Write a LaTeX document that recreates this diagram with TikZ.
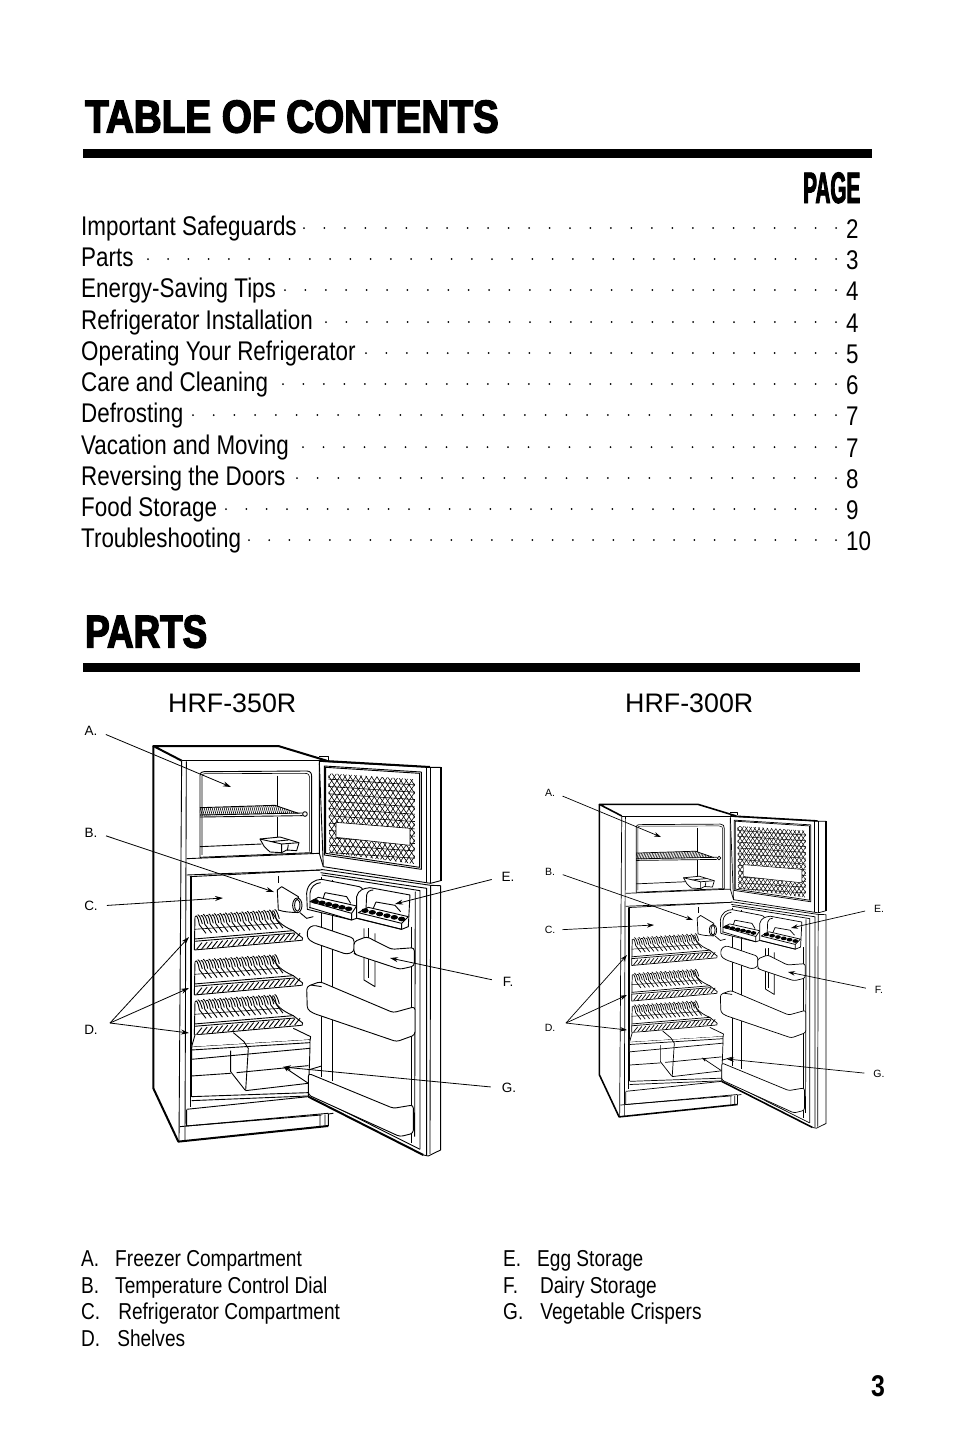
\documentclass[tikz,border=0pt]{standalone}
\usepackage{fontspec}
\usetikzlibrary{arrows.meta}
\setmainfont{Liberation Sans}
\newfontfamily\tocfont[FakeStretch=0.83]{Liberation Sans}
\newfontfamily\headfont[BoldFeatures={FakeBold=3},FakeStretch=0.84]{Liberation Sans}
\newfontfamily\partsfont[BoldFeatures={FakeBold=3},FakeStretch=0.8]{Liberation Sans}
\newfontfamily\pagefont[BoldFeatures={FakeBold=2},FakeStretch=0.47]{Liberation Sans}

\tikzset{
  txt/.style={inner sep=0pt,anchor=base west},
  toctext/.style={txt,font=\tocfont\fontsize{27}{30}\selectfont},
  legendtext/.style={txt,font=\tocfont\fontsize{23}{26}\selectfont},
  modeltext/.style={txt,font=\fontsize{26.8}{29}\selectfont},
  biglabel/.style={inner sep=0pt,font=\fontsize{13.5}{15}\selectfont},
  smalllabel/.style={inner sep=0pt,font=\fontsize{10.5}{12}\selectfont},
  partarrow/.style={-{Stealth[length=8pt,width=5pt]},line width=0.8pt},
  smallarrow/.style={-{Stealth[length=7pt,width=4.5pt]},line width=0.7pt},
  fr/.style={line width=0.9*\frw pt,line join=round},
  frthin/.style={line width=0.6*\frw pt,line join=round},
  frthick/.style={line width=2*\frw pt,line join=round},
  frfill/.style={fr,fill=white},
  binfill/.style={frfill,rounded corners=3*\frw pt},
}

% one row of the contents list: name, text, number, y, first dot
\newcommand{\tocrow}[5]{
  \node[toctext] (#1) at (81,#4+9) {#2};
  \node[toctext] (#1num) at (846,#4+12) {#3};
  \pgfmathtruncatemacro{\dotn}{round((836-#5)/20.45)}
  \pgfmathsetmacro{\dotstep}{(836-#5)/\dotn}
  \foreach \i in {0,...,\dotn}
    \fill ({#5+\i*\dotstep},#4+2) circle (1);
}

% wire shelf of the fridge, #1 = shift downwards
\newcommand{\wireshelf}[1]{
  \begin{scope}[yshift=-#1*\frunit]
    \foreach \i in {0,...,14} {
      \pgfmathsetmacro{\hx}{346+16.5*\i}
      \pgfmathsetmacro{\hy}{590-1.1*\i}
      \draw[fr] (\hx,\hy) .. controls (\hx+2,\hy-6) and (\hx+8,\hy-2) .. (\hx+12,\hy+24) -- (\hx+32,\hy+50);
      \draw[fr] (\hx+7,\hy-6) .. controls (\hx+12,\hy-6) and (\hx+18,\hy+10) .. (\hx+21,\hy+22);
    }
    \foreach \i in {0,...,19} {
      \pgfmathsetmacro{\hx}{350+15.5*\i}
      \draw[fr] (\hx,688-1.5*\i) -- (\hx+16,668-1.5*\i);
    }
    \draw[fr] (343,657) -- (640,632);
    \draw[fr] (343,664) -- (645,639);
    \draw[frthin] (343,628) -- (600,610);
    \draw[fr] (343,690) -- (665,661);
    \draw[fr] (345,590) -- (343,690);
    \draw[fr] (575,575) .. controls (590,600) and (600,615) .. (640,632) -- (668,654) -- (666,662);
  \end{scope}
}

% the fridge, in its own units
\newcommand{\fridge}{
  % cabinet
  \draw[frthick] (305,122) -- (220,78) -- (595,78) -- (740,122);
  \draw[frthick] (220,78) -- (220,1105) -- (295,1265) -- (745,1218);
  \draw[fr] (305,122) -- (740,122);
  \draw[fr] (305,122) -- (297,1265);
  \draw[fr] (319,124) -- (315,1262);
  \draw[fr] (718,108) -- (745,108) -- (745,120);
  % freezer compartment
  \draw[fr] (360,412) -- (360,166) .. controls (360,158) and (365,155) .. (372,155) -- (680,153) .. controls (692,153) and (695,160) .. (695,170) -- (695,400);
  \draw[frthin] (366,405) -- (366,168) .. controls (366,163) and (370,161) .. (375,161) -- (675,160) .. controls (685,160) and (689,165) .. (689,172) -- (689,395);
  \draw[fr] (592,167) -- (592,258) (592,290) -- (592,372);
  \draw[fr] (360,380) -- (545,372);
  \draw[fr] (320,416) -- (718,400);
  \draw[fr] (320,465) -- (725,450);
  \draw[fr] (360,412) -- (695,398);
  \draw[fr] (718,130) -- (718,400) -- (730,440);
  % freezer shelf
  \begin{scope}
    \clip (360,264) -- (585,256) -- (655,280) -- (360,287) -- cycle;
    \foreach \i in {0,...,55}
      \draw[frthin] (355+6*\i,290) -- (365+6*\i,255);
  \end{scope}
  \draw[fr] (360,263) -- (585,256) -- (655,280);
  \draw[fr] (360,285) -- (668,279);
  \draw[fr] (360,291) -- (668,287);
  \draw[frfill] (675,282) circle (7);
  % ice tray
  \draw[frfill] (540,357) -- (600,351) -- (657,368) -- (650,392) -- (620,390) -- (605,398) -- (570,396) -- (553,380) -- cycle;
  \draw[fr] (540,357) -- (605,372) -- (657,368) (572,365) -- (625,360) (605,372) -- (605,396) (625,374) -- (622,392);
  % upper door
  \draw[frfill] (718,124) -- (1052,142) -- (1082,142) -- (1082,482) -- (1052,490) -- (730,440) -- cycle;
  \draw[frthick] (718,122) -- (1050,141);
  \draw[fr] (1052,142) -- (1052,490) (1038,140) -- (1038,486);
  \draw[fr] (733,138) -- (1024,156) -- (1024,448) -- (733,405) -- cycle;
  \draw[fr] (737,142) -- (1019,160) -- (1019,442) -- (737,400) -- cycle;
  \begin{scope}
    \clip (745,160) -- (1005,178) -- (1005,432) -- (748,398) -- cycle;
    \foreach \i in {0,...,46} {
      \draw[frthin] (560+16*\i,130) -- (780+16*\i,460);
      \draw[frthin] (1190-16*\i,130) -- (970-16*\i,460);
    }
    \foreach \i in {0,...,15}
      \draw[frthin] (740,155+22*\i) -- (1010,173+22*\i);
  \end{scope}
  \draw[frfill,draw=none] (768,307) -- (990,325) -- (990,376) -- (768,352) -- cycle;
  \draw[frthin] (768,307) -- (990,325) -- (990,376) -- (768,352) -- cycle;
  % lower door
  \draw[frthick] (1082,142) -- (1082,482);
  \draw[fr] (1082,497) -- (1082,1290) -- (1045,1308) -- (1030,1305);
  \draw[fr] (722,448) -- (1052,496) -- (1082,497);
  \draw[fr] (722,458) -- (1040,505) -- (1040,1305);
  \draw[fr] (1052,496) -- (1050,1302);
  \draw[fr] (725,465) -- (1020,512) -- (1020,1288);
  \draw[fr] (1006,515) -- (1004,1250);
  \draw[fr] (994,620) -- (994,1270);
  \draw[frthick] (685,1130) -- (1030,1305);
  \draw[fr] (685,1120) -- (1020,1288);
  \draw[fr] (725,470) -- (725,1070) (758,480) -- (758,1082);
  \draw[fr] (685,1050) -- (725,1038);
  % fridge compartment
  \draw[fr] (330,470) -- (330,1160);
  \draw[fr] (335,472) -- (335,1130);
  \draw[fr] (330,470) -- (720,450);
  \draw[fr] (596,468) -- (596,490);
  \draw[fr] (335,1130) -- (685,1118);
  \draw[fr] (335,1142) -- (685,1128);
  \draw[fr] (320,1168) -- (685,1130);
  \draw[fr] (300,1220) -- (745,1180);
  \draw[fr] (320,1170) -- (320,1218) -- (725,1185);
  \draw[fr] (720,1185) -- (720,1218) (735,1184) -- (735,1218) (745,1218) -- (745,1182) -- (760,1180);
  % wire shelves
  \wireshelf{0}
  \wireshelf{135}
  \wireshelf{255}
  % crispers
  \draw[frfill] (335,980) -- (690,958) -- (690,985) -- (335,1018) -- cycle;
  \draw[frfill,draw=none] (340,945) -- (692,940) -- (692,958) -- (335,980) -- cycle;
  \draw[fr] (345,945) -- (335,980) (640,925) -- (692,950) -- (690,962);
  \draw[fr] (335,990) -- (690,968);
  \draw[fr] (460,938) -- (492,965) -- (505,985) -- (497,1112);
  \draw[fr] (452,992) -- (452,1055) -- (495,1110);
  \draw[fr] (335,1068) -- (452,1060) (470,1058) -- (685,1037);
  \draw[fr] (497,1112) -- (685,1090);
  \draw[fr] (690,985) -- (685,1130);
  \draw[-{Stealth[length=6*\frw pt,width=4*\frw pt]},fr] (685,1090) -- (610,1040);
  % door shelves
  \draw[fr] (852,625) -- (852,780) -- (885,800) -- (885,640);
  \draw[fr] (864,625) -- (864,775);
  \draw[binfill] (682,628) -- (700,615) -- (725,622) -- (822,655) -- (822,695) -- (800,703) -- (700,668) -- (682,655) -- cycle;
  \draw[binfill] (822,665) -- (860,650) -- (935,688) -- (1003,683) -- (1003,738) -- (960,748) -- (830,705) -- (822,700) -- cycle;
  \draw[binfill] (680,800) -- (720,785) -- (940,878) -- (1005,860) -- (1005,945) -- (950,965) -- (700,880) -- (682,868) -- cycle;
  \draw[fr] (692,795) -- (725,800);
  \draw[binfill] (685,1060) -- (940,1165) -- (1000,1155) -- (1000,1240) -- (960,1250) -- (685,1125) -- cycle;
  % egg trays
  \draw[frfill] (682,568) -- (680,520) .. controls (682,490) and (705,478) .. (725,478) -- (838,500) .. controls (850,505) and (850,510) .. (845,520) -- (830,595) -- (815,600) -- cycle;
  \draw[fr] (690,565) -- (690,520) .. controls (692,500) and (705,490) .. (722,488);
  \draw[fr] (735,518) -- (800,530) -- (812,550) (735,518) -- (728,540);
  \draw[frfill] (690,545) -- (715,532) -- (830,558) -- (815,580) -- cycle;
  \draw[fr] (688,562) -- (815,600) -- (815,580);
  \foreach \i in {0,...,5}
    \fill (706+20*\i,544+4.5*\i) ellipse (11 and 7);
  \draw[frfill] (830,595) -- (830,530) .. controls (835,510) and (850,505) .. (870,503) -- (990,525) -- (985,620) -- (965,628) -- cycle;
  \draw[fr] (858,570) -- (860,525) .. controls (862,515) and (870,510) .. (880,510);
  \draw[fr] (888,546) -- (945,556) -- (962,575) (888,546) -- (880,565);
  \draw[frfill] (835,578) -- (865,562) -- (985,590) -- (965,610) -- cycle;
  \draw[fr] (833,595) -- (965,628) -- (965,610);
  \foreach \i in {0,...,5}
    \fill (855+22*\i,572+5*\i) ellipse (11 and 7);
  % dial
  \draw[frfill] (592,510) -- (605,500) -- (655,530) -- (655,577) .. controls (630,578) and (610,575) .. (595,570) -- cycle;
  \draw[frfill] (652,556) ellipse (14 and 22);
  \draw[fr] (652,556) ellipse (8 and 18);
  \draw[fr] (660,578) -- (680,595) -- (700,590);
}

\begin{document}
\begin{tikzpicture}[x=1pt,y=-1pt]
  \useasboundingbox (0,0) rectangle (954,1452);

  % headings
  \node[txt,font=\headfont\bfseries\fontsize{46}{50}\selectfont] (title) at (85,132.5) {TABLE OF CONTENTS};
  \fill (83,149) rectangle (872,158);
  \node[txt,font=\pagefont\bfseries\fontsize{44}{48}\selectfont] (pagehead) at (803,203) {PAGE};

  % contents
  \tocrow{safe}{Important Safeguards}{2}{226}{304}
  \tocrow{parts}{Parts}{3}{257}{148}
  \tocrow{energy}{Energy-Saving Tips}{4}{288}{285}
  \tocrow{install}{Refrigerator Installation}{4}{320}{326}
  \tocrow{operate}{Operating Your Refrigerator}{5}{351}{366}
  \tocrow{care}{Care and Cleaning}{6}{382}{283}
  \tocrow{defrost}{Defrosting}{7}{413}{193}
  \tocrow{vacation}{Vacation and Moving}{7}{445}{303}
  \tocrow{reverse}{Reversing the Doors}{8}{476}{297}
  \tocrow{food}{Food Storage}{9}{507}{226}
  \tocrow{trouble}{Troubleshooting}{10}{538}{249}

  \node[txt,font=\partsfont\bfseries\fontsize{46}{50}\selectfont] (partshead) at (85,647.5) {PARTS};
  \fill (83,663) rectangle (860,672);

  \node[modeltext] (bigmodel) at (168,712) {HRF-350R};
  \node[modeltext] (smallmodel) at (625,712) {HRF-300R};

  % big fridge
  \begin{scope}[shift={(80,720)},x=0.3333pt,y=-0.3333pt]
    \def\frw{1}\def\frunit{0.3333pt}
    \fridge
  \end{scope}

  % small fridge
  \begin{scope}[shift={(541.5,783.8)},x=0.263pt,y=-0.2633pt]
    \def\frw{0.79}\def\frunit{0.2633pt}
    \fridge
  \end{scope}

  % big fridge labels
  \node[biglabel] (la) at (91,731) {A.};
  \node[biglabel] (lb) at (91,833) {B.};
  \node[biglabel] (lc) at (91,906) {C.};
  \node[biglabel] (ld) at (91,1030) {D.};
  \node[biglabel] (le) at (508,877) {E.};
  \node[biglabel] (lf) at (508,982) {F.};
  \node[biglabel] (lg) at (509,1088) {G.};
  \coordinate (ta) at (231,787);
  \coordinate (tb) at (274,892);
  \coordinate (tc) at (223,898);
  \coordinate (tdone) at (189,937);
  \coordinate (tdtwo) at (189,988);
  \coordinate (tdthree) at (189,1033);
  \coordinate (te) at (395,904);
  \coordinate (tf) at (390,958);
  \coordinate (tg) at (283,1067);
  \coordinate (dfork) at (110,1023);
  \draw[partarrow,shorten <=9pt] (la.east) -- (ta);
  \draw[partarrow,shorten <=9pt] (lb.east) -- (tb);
  \draw[partarrow,shorten <=9pt] (lc.east) -- (tc);
  \draw[partarrow] (dfork) -- (tdone);
  \draw[partarrow] (dfork) -- (tdtwo);
  \draw[partarrow] (dfork) -- (tdthree);
  \draw[partarrow,shorten <=10pt] (le.west) -- (te);
  \draw[partarrow,shorten <=11pt] (lf.west) -- (tf);
  \draw[partarrow,shorten <=11pt] (lg.west) -- (tg);

  % small fridge labels
  \node[smalllabel] (sa) at (550,793) {A.};
  \node[smalllabel] (sb) at (550,872) {B.};
  \node[smalllabel] (sc) at (550,930) {C.};
  \node[smalllabel] (sd) at (550,1028) {D.};
  \node[smalllabel] (se) at (879,909) {E.};
  \node[smalllabel] (sf) at (879,990) {F.};
  \node[smalllabel] (sg) at (879,1074) {G.};
  \coordinate (ua) at (661,837);
  \coordinate (ub) at (693,920);
  \coordinate (uc) at (654,925);
  \coordinate (udone) at (627,955);
  \coordinate (udtwo) at (627,995);
  \coordinate (udthree) at (627,1030);
  \coordinate (ue) at (791,928);
  \coordinate (uf) at (788,972);
  \coordinate (ug) at (727,1059);
  \coordinate (ufork) at (566,1023);
  \draw[smallarrow,shorten <=8pt] (sa.east) -- (ua);
  \draw[smallarrow,shorten <=8pt] (sb.east) -- (ub);
  \draw[smallarrow,shorten <=7pt] (sc.east) -- (uc);
  \draw[smallarrow] (ufork) -- (udone);
  \draw[smallarrow] (ufork) -- (udtwo);
  \draw[smallarrow] (ufork) -- (udthree);
  \draw[smallarrow,shorten <=9pt] (se.west) -- (ue);
  \draw[smallarrow,shorten <=9pt] (sf.west) -- (uf);
  \draw[smallarrow,shorten <=9pt] (sg.west) -- (ug);

  % legend
  \node[legendtext] (lega) at (81,1266) {A.\hspace{16pt}Freezer Compartment};
  \node[legendtext] (legb) at (81,1293) {B.\hspace{16pt}Temperature Control Dial};
  \node[legendtext] (legc) at (81,1319) {C.\hspace{18pt}Refrigerator Compartment};
  \node[legendtext] (legd) at (81,1346) {D.\hspace{17pt}Shelves};
  \node[legendtext] (lege) at (503,1266) {E.\hspace{16pt}Egg Storage};
  \node[legendtext] (legf) at (503,1293) {F.\hspace{22pt}Dairy Storage};
  \node[legendtext] (legg) at (503,1319) {G.\hspace{17pt}Vegetable Crispers};

  \node[txt,font=\tocfont\bfseries\fontsize{30}{32}\selectfont] (pageno) at (871,1396) {3};
\end{tikzpicture}
\end{document}
